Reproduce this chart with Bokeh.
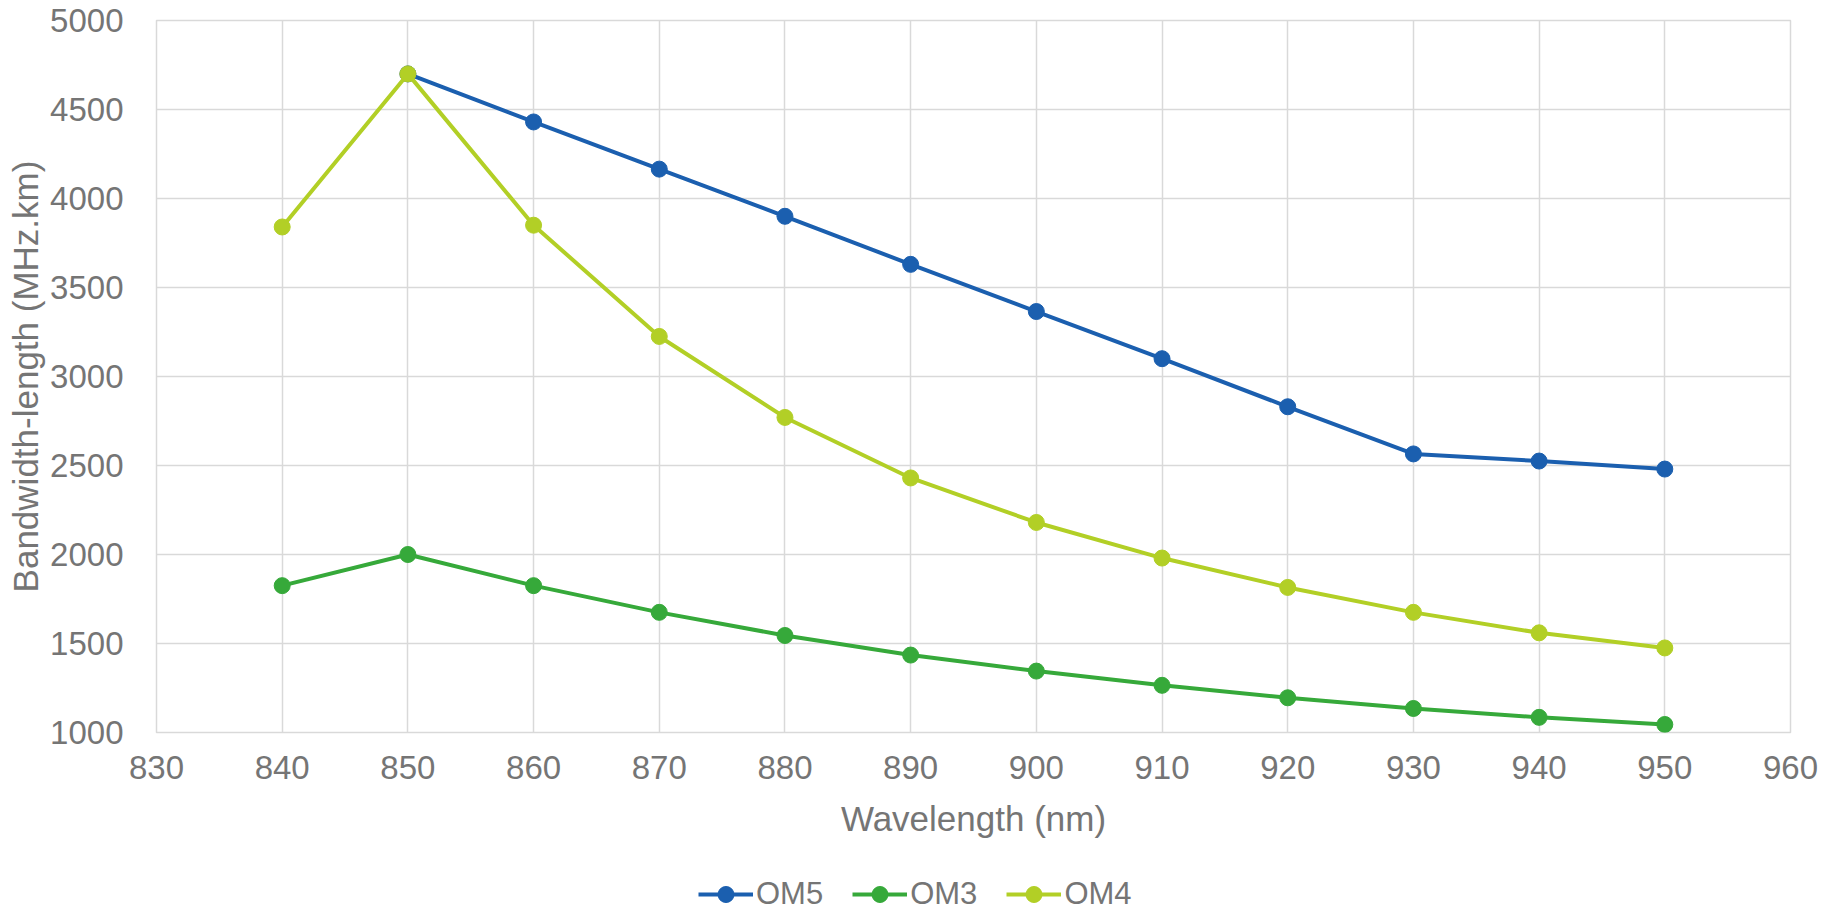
from bokeh.plotting import figure
from bokeh.layouts import column
from bokeh.models import Range1d, FixedTicker, Legend, LegendItem
from bokeh.embed import file_html
from bokeh.resources import INLINE

# ---- data ----
wavelength = [840, 850, 860, 870, 880, 890, 900, 910, 920, 930, 940, 950]
om5_wavelength = [850, 860, 870, 880, 890, 900, 910, 920, 930, 940, 950]
om5 = [4700, 4430, 4165, 3900, 3630, 3365, 3100, 2830, 2565, 2525, 2480]
om3 = [1825, 2000, 1825, 1675, 1545, 1435, 1345, 1265, 1195, 1135, 1085, 1045]
om4 = [3840, 4700, 3850, 3225, 2770, 2430, 2180, 1980, 1815, 1675, 1560, 1475]
x_ticks = [830, 840, 850, 860, 870, 880, 890, 900, 910, 920, 930, 940, 950, 960]
y_ticks = [1000, 1500, 2000, 2500, 3000, 3500, 4000, 4500, 5000]
series_names = ["OM5", "OM3", "OM4"]

C_OM5 = "#1b5faf"
C_OM3 = "#36a93a"
C_OM4 = "#b2cf26"
TXT = "#757575"
GRID = "#d9d9d9"
FONT = "Liberation Sans"

p = figure(width=1824, height=860, output_backend="svg", toolbar_location=None,
           x_range=Range1d(830, 960), y_range=Range1d(1000, 5000),
           min_border_left=156, min_border_right=34, min_border_top=20,
           min_border_bottom=128)

p.background_fill_color = "white"
p.border_fill_color = "white"
p.outline_line_color = GRID
p.outline_line_width = 1.5

for ax in (p.xaxis[0], p.yaxis[0]):
    ax.axis_line_color = None
    ax.major_tick_line_color = None
    ax.minor_tick_line_color = None
    ax.major_label_text_font = FONT
    ax.major_label_text_font_size = "33px"
    ax.major_label_text_color = TXT
    ax.axis_label_text_font = FONT
    ax.axis_label_text_font_size = "35px"
    ax.axis_label_text_color = TXT
    ax.axis_label_text_font_style = "normal"

p.xaxis[0].ticker = FixedTicker(ticks=x_ticks)
p.yaxis[0].ticker = FixedTicker(ticks=y_ticks)
p.xaxis[0].axis_label = "Wavelength (nm)"
p.yaxis[0].axis_label = "Bandwidth-length (MHz.km)"
p.xaxis[0].major_label_standoff = 17
p.yaxis[0].major_label_standoff = 27
p.xaxis[0].axis_label_standoff = 17
p.yaxis[0].axis_label_standoff = 2

p.xgrid.ticker = FixedTicker(ticks=x_ticks)
p.ygrid.ticker = FixedTicker(ticks=y_ticks)
p.xgrid.grid_line_color = GRID
p.ygrid.grid_line_color = GRID
p.xgrid.grid_line_width = 1.5
p.ygrid.grid_line_width = 1.5

series = [(om5_wavelength, om5, C_OM5), (wavelength, om3, C_OM3), (wavelength, om4, C_OM4)]
for xs, ys, c in series:
    p.line(xs, ys, line_color=c, line_width=4)
    p.scatter(xs, ys, size=16, fill_color=c, line_color=c)

# legend strip below the chart (its ranges exclude the data, so only the legend shows)
lg = figure(width=1824, height=50, output_backend="svg", toolbar_location=None,
            x_axis_type=None, y_axis_type=None,
            x_range=Range1d(0, 1), y_range=Range1d(0, 1),
            min_border_left=0, min_border_right=0, min_border_top=0,
            min_border_bottom=0)
lg.outline_line_color = None
lg.xgrid.visible = False
lg.ygrid.visible = False
items = []
for name, (xs, ys, c) in zip(series_names, series):
    rl = lg.line(xs, ys, line_color=c, line_width=4)
    rs = lg.scatter(xs, ys, size=16, fill_color=c, line_color=c)
    items.append(LegendItem(label=name, renderers=[rl, rs]))

legend = Legend(items=items, orientation="horizontal", location=(542, -4),
                padding=0, margin=0, spacing=29, label_standoff=3,
                glyph_width=55, glyph_height=40,
                border_line_alpha=0, background_fill_alpha=0,
                label_text_font=FONT, label_text_font_size="31px",
                label_text_color=TXT)
lg.add_layout(legend, "center")

layout = column(p, lg, spacing=0)
open("out.html", "w").write(file_html(layout, INLINE))
